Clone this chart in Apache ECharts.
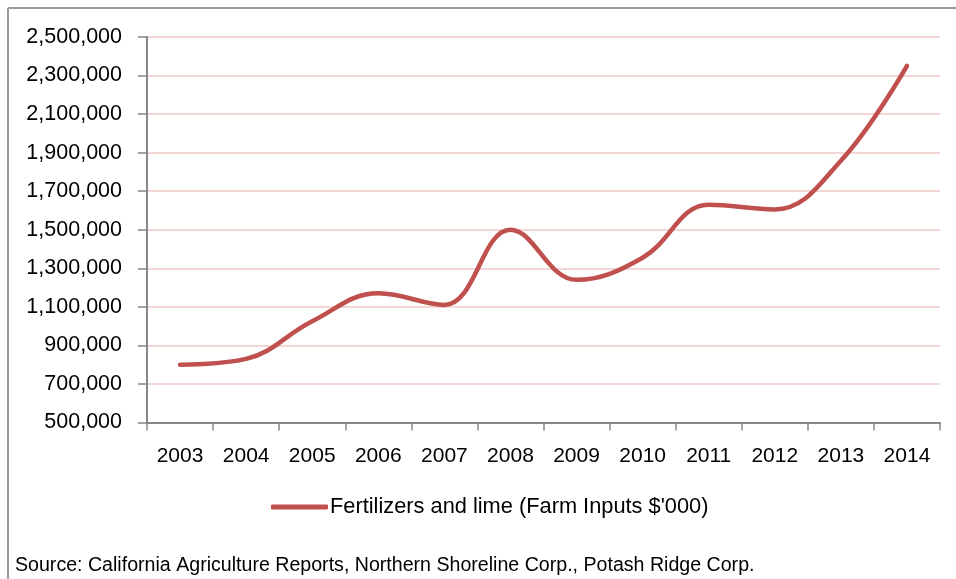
<!DOCTYPE html>
<html>
<head>
<meta charset="utf-8">
<script src="https://cdn.jsdelivr.net/npm/echarts@6/dist/echarts.min.js"></script>
<style>
  html, body { margin: 0; padding: 0; background: #ffffff; }
  #chart { width: 956px; height: 579px; }
</style>
</head>
<body>
<div id="chart"></div>
<script>
// Farm input spending on fertilizers and lime, California ($'000)
const years = ['2003', '2004', '2005', '2006', '2007', '2008', '2009', '2010', '2011', '2012', '2013', '2014'];
const fertilizerSpend = [800000, 830000, 1025000, 1170000, 1110000, 1500000, 1240000, 1355000, 1630000, 1605000, 1858000, 2350000];
const seriesName = "Fertilizers and lime (Farm Inputs $'000)";
const sourceNote = 'Source: California Agriculture Reports, Northern Shoreline Corp., Potash Ridge Corp.';

const FONT = '"Liberation Sans", Arial, sans-serif';
const AXIS_GREY = '#878787';
const LINE_RED = '#c0504d';

const chart = echarts.init(document.getElementById('chart'), null, { renderer: 'canvas' });

chart.setOption({
  backgroundColor: '#ffffff',
  animation: false,
  grid: { left: 147, right: 16, top: 37, bottom: 156.5, containLabel: false },
  xAxis: {
    type: 'category',
    data: years,
    boundaryGap: true,
    axisLine: { lineStyle: { color: AXIS_GREY, width: 2 } },
    axisTick: { show: true, length: 8, alignWithLabel: false, lineStyle: { color: AXIS_GREY, width: 1.5 } },
    axisLabel: { color: '#000000', fontFamily: FONT, fontSize: 21, margin: 23, interval: 0 },
    splitLine: { show: false }
  },
  yAxis: {
    type: 'value',
    min: 500000,
    max: 2500000,
    interval: 200000,
    axisLine: { show: true, lineStyle: { color: AXIS_GREY, width: 2 } },
    axisTick: { show: true, length: 9, lineStyle: { color: AXIS_GREY, width: 1.5 } },
    axisLabel: {
      color: '#000000', fontFamily: FONT, fontSize: 21.5, margin: 25,
      formatter: v => v.toLocaleString('en-US')
    },
    splitLine: { show: true, lineStyle: { color: '#f2d6d5', width: 2 } }
  },
  legend: {
    left: 266,
    top: 491,
    icon: 'roundRect',
    itemWidth: 57,
    itemHeight: 5,
    itemGap: 10,
    textStyle: { color: '#000000', fontFamily: FONT, fontSize: 21.8, padding: [0, 0, 0, -3] },
    data: [seriesName]
  },
  series: [{
    name: seriesName,
    type: 'line',
    data: fertilizerSpend,
    smooth: 0.4,
    showSymbol: false,
    symbol: 'none',
    lineStyle: { color: LINE_RED, width: 4.5, cap: 'round', join: 'round' },
    itemStyle: { color: LINE_RED }
  }],
  graphic: [
    // frame edges along top and left
    { type: 'line', shape: { x1: 8, y1: 8, x2: 956, y2: 8 }, style: { stroke: '#9a9a9a', lineWidth: 2 } },
    { type: 'line', shape: { x1: 8, y1: 8, x2: 8, y2: 579 }, style: { stroke: '#9a9a9a', lineWidth: 2 } },
    {
      type: 'text', left: 15, top: 556,
      style: { text: sourceNote, fill: '#000000', font: '19.6px ' + FONT }
    }
  ]
});
</script>
</body>
</html>
